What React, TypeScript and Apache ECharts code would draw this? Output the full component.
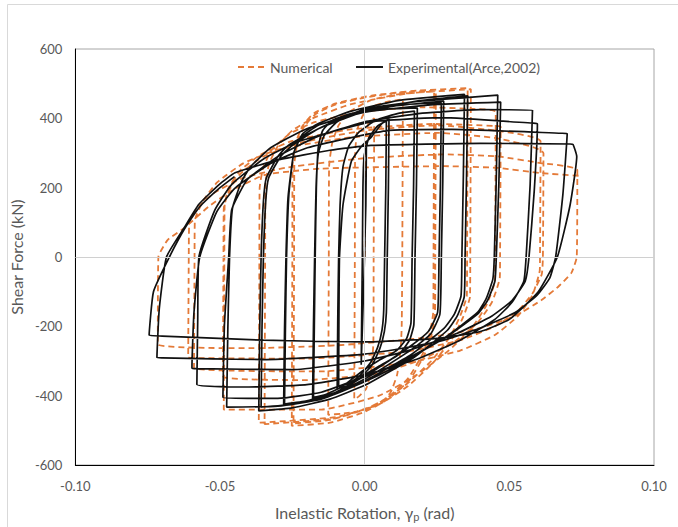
import React, { useEffect, useRef } from "react";
import * as echarts from "echarts";

// ---- Tick labels / axis ranges ----
const xTicks = [-0.1, -0.05, 0, 0.05, 0.1];
const yTicks = [-600, -400, -200, 0, 200, 400, 600];
const legendNames = ["Numerical", "Experimental(Arce,2002)"];

// ---- Experimental (Arce, 2002) hysteresis: [rotation, shear kN] ----
const expElastic = [[0, 0], [0.0003, 150], [0.0006, 328], [0.0004, 150], [-0.0004, -100], [-0.0012, -311]];
const expCycle1 = [[-0.0012, -311], [-0.001, -150], [-0.0008, 0], [-0.0006, 200], [-0.0002, 290], [0.0015, 345], [0.0045, 378], [0.0075, 392],
  [0.0073, 200], [0.0069, 0], [0.0066, -150], [0.006, -210], [0.0045, -260], [0.002, -305], [-0.002, -345], [-0.006, -366], [-0.009, -373]];
const expCycle2 = [[-0.009, -373], [-0.0089, -180], [-0.0087, 0], [-0.0075, 150], [-0.0046, 276], [-0.001, 320], [0.0022, 345], [0.006, 385], [0.0084, 400],
  [0.0082, 200], [0.0078, 0], [0.0075, -160], [0.0068, -215], [0.0052, -265], [0.0025, -312], [-0.002, -352], [-0.006, -372], [-0.0095, -380]];
const expCycle3 = [[-0.0095, -380], [-0.0093, -180], [-0.009, 0], [-0.0085, 150], [-0.0075, 260], [-0.0055, 320], [-0.002, 360], [0.004, 395], [0.012, 415], [0.0172, 421],
  [0.0169, 200], [0.0164, 0], [0.016, -190], [0.0145, -235], [0.011, -270], [0.0046, -300], [-0.001, -330], [-0.008, -375], [-0.014, -398], [-0.0177, -405]];
const expCycle4 = [[-0.0177, -405], [-0.0174, -200], [-0.0171, 0], [-0.0167, 200], [-0.016, 320], [-0.0145, 365], [-0.011, 395], [-0.004, 415], [0.006, 426], [0.0182, 430],
  [0.0179, 210], [0.0174, 0], [0.017, -195], [0.0155, -240], [0.012, -280], [0.006, -310], [0.0, -340], [-0.007, -380], [-0.014, -402], [-0.018, -410]];
const expCycle5 = [[-0.018, -410], [-0.0177, -200], [-0.0173, 0], [-0.0168, 200], [-0.016, 300], [-0.014, 350], [-0.0095, 390], [-0.002, 420], [0.01, 438], [0.0265, 445],
  [0.0262, 220], [0.0257, 0], [0.0252, -160], [0.022, -215], [0.016, -256], [0.0046, -320], [-0.001, -348], [-0.01, -390], [-0.02, -415], [-0.0277, -424]];
const expCycle6 = [[-0.0277, -424], [-0.0274, -210], [-0.027, 0], [-0.0262, 180], [-0.0245, 300], [-0.022, 345], [-0.016, 380], [-0.005, 410], [0.01, 435], [0.0273, 450],
  [0.027, 220], [0.0265, 0], [0.026, -165], [0.0228, -222], [0.017, -262], [0.006, -322], [0.0, -352], [-0.01, -393], [-0.02, -418], [-0.028, -428]];
const expCycle7 = [[-0.028, -428], [-0.0277, -210], [-0.0272, 0], [-0.0265, 170], [-0.0245, 300], [-0.0215, 355], [-0.016, 385], [-0.005, 420], [0.012, 452], [0.0345, 469],
  [0.0341, 230], [0.0336, 0], [0.0333, -112], [0.031, -165], [0.0274, -206], [0.016, -282], [0.006, -330], [-0.001, -362], [-0.012, -400], [-0.025, -425], [-0.0358, -433]];
const expCycle8 = [[-0.0358, -433], [-0.0355, -210], [-0.035, 0], [-0.0342, 160], [-0.0332, 228], [-0.029, 290], [-0.025, 322], [-0.016, 370], [0.0, 420], [0.018, 450], [0.0356, 465],
  [0.0352, 230], [0.0347, 0], [0.0344, -115], [0.032, -170], [0.0285, -212], [0.017, -290], [0.007, -338], [0.0, -370], [-0.012, -410], [-0.025, -435], [-0.0366, -444]];
const expCycle9 = [[-0.0366, -444], [-0.0363, -220], [-0.0358, 0], [-0.035, 160], [-0.034, 228], [-0.03, 290], [-0.0264, 322], [-0.016, 370], [0.0, 427], [0.02, 450], [0.035, 460], [0.046, 467],
  [0.0455, 230], [0.0448, 0], [0.0443, -64], [0.042, -120], [0.039, -160], [0.0274, -234], [0.01, -319], [0.0, -360], [-0.015, -410], [-0.03, -430], [-0.0477, -433]];
const expCycle10 = [[-0.0477, -433], [-0.0473, -210], [-0.0467, 0], [-0.0457, 140], [-0.0427, 215], [-0.0395, 260], [-0.0325, 315], [-0.02, 370], [0.0, 418], [0.025, 440], [0.047, 447],
  [0.0464, 220], [0.0455, 0], [0.045, -70], [0.0425, -125], [0.039, -165], [0.028, -232], [0.012, -305], [0.0, -345], [-0.015, -390], [-0.03, -408], [-0.049, -405]];
const expCycle11 = [[-0.049, -405], [-0.0485, -200], [-0.047, 0], [-0.046, 135], [-0.0423, 200], [-0.04, 228], [-0.03, 290], [-0.017, 345], [0.0, 390], [0.02, 415], [0.04, 425], [0.058, 424],
  [0.0572, 210], [0.0558, 0], [0.055, -70], [0.051, -130], [0.045, -180], [0.033, -240], [0.018, -295], [0.0, -340], [-0.02, -368], [-0.04, -375], [-0.058, -368]];
const expCycle12 = [[-0.058, -368], [-0.0577, -180], [-0.0573, 0], [-0.0518, 135], [-0.046, 209], [-0.0346, 285], [-0.0229, 333], [0.0022, 390], [0.027, 402], [0.058, 386], [0.0597, 384],
  [0.0586, 190], [0.0568, 0], [0.0555, -70], [0.051, -125], [0.044, -170], [0.032, -220], [0.015, -270], [0.0, -300], [-0.025, -325], [-0.058, -322], [-0.0597, -320]];
const expCycle13 = [[-0.0597, -320], [-0.059, -160], [-0.057, 0], [-0.0511, 131], [-0.0448, 199], [-0.0325, 270], [-0.0198, 315], [0.0073, 364], [0.03, 368], [0.068, 357], [0.07, 356],
  [0.0685, 180], [0.066, 0], [0.064, -60], [0.0596, -110], [0.052, -160], [0.04, -205], [0.025, -245], [0.0, -280], [-0.035, -296], [-0.07, -291], [-0.0718, -290]];
const expCycle14 = [[-0.0718, -290], [-0.071, -150], [-0.0685, 0], [-0.0622, 87], [-0.0573, 152], [-0.0503, 209], [-0.0448, 243], [-0.03, 280], [-0.012, 308], [0.0022, 322], [0.04, 328], [0.071, 326], [0.072, 325],
  [0.0733, 290], [0.071, 150], [0.0666, 0], [0.06, -100], [0.05, -180], [0.04, -215], [0.025, -235], [0, -245], [-0.035, -240], [-0.07, -228], [-0.0745, -226]];
const expFinal = [[-0.0745, -226], [-0.073, -100], [-0.0675, 0], [-0.062, 85], [-0.057, 145], [-0.05, 200], [-0.045, 232]];

// ---- Numerical hysteresis ----
const numElastic = [[0, 0], [0.0002, 250], [0.0006, 360], [0.0015, 390], [0.0033, 400]];
const numLoop1 = [[0.0033, 400], [0.0031, 0], [0.003, -250], [0.0022, -330], [0.0005, -380], [-0.002, -402], [-0.0036, -410],
  [-0.0034, 0], [-0.0033, 300], [-0.0025, 370], [-0.0005, 410], [0.003, 435], [0.008, 448], [0.0132, 455]];
const numLoop2 = [[0.0132, 455], [0.013, 0], [0.0128, -200], [0.0124, -270], [0.0112, -340], [0.009, -390], [0.0064, -415], [0.001, -440], [-0.008, -452], [-0.0126, -455],
  [-0.0124, 0], [-0.0123, 260], [-0.0112, 330], [-0.009, 380], [-0.005, 420], [0.002, 452], [0.012, 470], [0.024, 478]];
const numLoop3 = [[0.024, 478], [0.0238, 0], [0.0237, -160], [0.0225, -220], [0.02, -280], [0.015, -350], [0.008, -405], [0.0, -440], [-0.012, -470], [-0.0246, -480],
  [-0.0244, 0], [-0.0243, 270], [-0.0232, 330], [-0.021, 375], [-0.017, 412], [-0.01, 440], [0.0, 460], [0.012, 474], [0.0246, 480]];
const numLoop4 = [[0.0246, 480], [0.0244, 0], [0.0243, -165], [0.0231, -225], [0.0205, -285], [0.0155, -355], [0.008, -410], [0.0, -447], [-0.012, -478], [-0.0252, -487],
  [-0.025, 0], [-0.0249, 270], [-0.0238, 330], [-0.0215, 378], [-0.0175, 415], [-0.01, 443], [0.002, 465], [0.018, 480], [0.0356, 487]];
const numLoop5 = [[0.0356, 487], [0.0354, 0], [0.0353, -112], [0.033, -170], [0.0295, -230], [0.023, -300], [0.014, -370], [0.004, -425], [-0.01, -465], [-0.0346, -482],
  [-0.0344, 0], [-0.0343, 210], [-0.033, 270], [-0.03, 320], [-0.025, 365], [-0.018, 400], [-0.005, 440], [0.015, 472], [0.0367, 484]];
const numLoop6 = [[0.0367, 484], [0.0365, 0], [0.0364, -115], [0.0341, -172], [0.0305, -232], [0.024, -302], [0.015, -372], [0.005, -425], [-0.01, -462], [-0.0366, -478],
  [-0.0364, 0], [-0.0363, 200], [-0.035, 260], [-0.032, 310], [-0.026, 355], [-0.017, 390], [0.0, 420], [0.02, 432], [0.0375, 427], [0.0453, 418]];
const numLoop7 = [[0.0453, 418], [0.0451, 0], [0.045, -70], [0.042, -140], [0.037, -205], [0.029, -270], [0.018, -340], [0.005, -400], [-0.015, -440], [-0.0487, -440],
  [-0.0485, 0], [-0.0484, 150], [-0.047, 200], [-0.043, 250], [-0.036, 295], [-0.025, 335], [-0.005, 368], [0.0236, 384], [0.0453, 378], [0.047, 376]];
const numLoop8 = [[0.047, 376], [0.0468, 0], [0.0467, -60], [0.044, -130], [0.039, -190], [0.031, -245], [0.02, -295], [0.005, -335], [-0.02, -355], [-0.049, -345],
  [-0.0488, 0], [-0.0487, 140], [-0.047, 190], [-0.043, 240], [-0.035, 290], [-0.022, 330], [0.0, 365], [0.025, 380], [0.0477, 362], [0.0608, 333]];
const numLoop9 = [[0.0608, 333], [0.0606, 0], [0.0605, -40], [0.058, -110], [0.053, -170], [0.045, -225], [0.033, -270], [0.015, -305], [-0.015, -330], [-0.059, -320],
  [-0.0588, 0], [-0.0587, 105], [-0.056, 160], [-0.051, 215], [-0.042, 270], [-0.03, 310], [-0.005, 345], [0.025, 358], [0.046, 342], [0.0618, 299]];
const numLoop10 = [[0.0618, 299], [0.0616, 0], [0.0612, -50], [0.058, -105], [0.053, -155], [0.045, -200], [0.033, -240], [0.015, -272], [-0.02, -293], [-0.061, -290],
  [-0.0608, 0], [-0.0606, 100], [-0.058, 140], [-0.052, 185], [-0.042, 228], [-0.027, 258], [0.0, 285], [0.0274, 296], [0.046, 290], [0.0608, 271], [0.0735, 250]];
const numLoop11 = [[0.0735, 250], [0.0733, 0], [0.0715, -45], [0.067, -85], [0.061, -125], [0.052, -170], [0.04, -205], [0.022, -232], [-0.01, -255], [-0.04, -263], [-0.0715, -252],
  [-0.0713, 0], [-0.068, 50], [-0.062, 86], [-0.054, 145], [-0.046, 191], [-0.0345, 237], [-0.015, 255], [0.0274, 262], [0.046, 257], [0.0608, 242], [0.0746, 234]];

const experimental = [expElastic, expCycle1, expCycle2, expCycle3, expCycle4, expCycle5, expCycle6, expCycle7,
  expCycle8, expCycle9, expCycle10, expCycle11, expCycle12, expCycle13, expCycle14, expFinal].flat();
const numerical = [numElastic, numLoop1, numLoop2, numLoop3, numLoop4, numLoop5, numLoop6, numLoop7,
  numLoop8, numLoop9, numLoop10, numLoop11].flat();

const FONT = "Lato, 'Open Sans', sans-serif";
const GREY = "#595959";
const ORANGE = "#E47A38";
const DASH = [6, 4];

export default function App() {
  const ref = useRef<HTMLDivElement>(null);
  useEffect(() => {
    if (!ref.current) return;
    const chart = echarts.init(ref.current, null, { renderer: "svg" });
    chart.setOption({
      animation: false,
      backgroundColor: "#ffffff",
      textStyle: { fontFamily: FONT },
      graphic: [
        { type: "line", shape: { x1: 7.5, y1: 4.5, x2: 7.5, y2: 527 }, style: { stroke: "#d9d9d9", lineWidth: 1 }, silent: true },
        { type: "line", shape: { x1: 7.5, y1: 4.5, x2: 678, y2: 4.5 }, style: { stroke: "#d9d9d9", lineWidth: 1 }, silent: true },
        // legend
        { type: "line", z: 10, shape: { x1: 238, y1: 67, x2: 265, y2: 67 }, style: { stroke: ORANGE, lineWidth: 1.8, lineDash: DASH } },
        { type: "text", z: 10, x: 270, y: 67, style: { text: legendNames[0], fill: GREY, font: `14px ${FONT}`, textVerticalAlign: "middle", verticalAlign: "middle" } },
        { type: "line", z: 10, shape: { x1: 356, y1: 67, x2: 383, y2: 67 }, style: { stroke: "#000", lineWidth: 1.8 } },
        { type: "text", z: 10, x: 388, y: 67, style: { text: legendNames[1], fill: GREY, font: `14px ${FONT}`, textVerticalAlign: "middle", verticalAlign: "middle" } },
      ],
      grid: {
        left: 73, top: 49, right: 24, bottom: 55,
        show: true, borderColor: "#a6a6a6", borderWidth: 1,
      },
      xAxis: {
        type: "value",
        min: xTicks[0], max: xTicks[xTicks.length - 1], interval: 0.05,
        axisLine: { show: true, onZero: false, lineStyle: { color: "#000", width: 1 } },
        axisTick: { show: false },
        splitLine: { show: false },
        axisLabel: { color: GREY, fontSize: 13, margin: 14, fontFamily: FONT, formatter: (v: number) => v.toFixed(2) },
        name: "Inelastic Rotation, γ{sub|p} (rad)",
        nameLocation: "middle",
        nameGap: 37,
        nameTextStyle: {
          color: GREY, fontSize: 16, fontFamily: FONT, lineHeight: 20,
          rich: { sub: { fontSize: 11, color: GREY, fontFamily: FONT, verticalAlign: "bottom", lineHeight: 14, padding: [8, 0, 0, 0] } },
        },
      },
      yAxis: {
        type: "value",
        min: yTicks[0], max: yTicks[yTicks.length - 1], interval: 200,
        axisLine: { show: true, onZero: false, lineStyle: { color: "#000", width: 1 } },
        axisTick: { show: false },
        splitLine: { show: false },
        axisLabel: { color: GREY, fontSize: 13, margin: 13, fontFamily: FONT },
        name: "Shear Force (kN)",
        nameLocation: "middle",
        nameGap: 38,
        nameTextStyle: { color: GREY, fontSize: 16, fontFamily: FONT },
      },
      series: [
        {
          name: "zero",
          type: "line",
          data: [],
          silent: true,
          z: 1,
          markLine: {
            silent: true,
            symbol: "none",
            label: { show: false },
            lineStyle: { color: "#d0d0d0", type: "solid", width: 1 },
            data: [{ xAxis: 0 }, { yAxis: 0 }],
          },
        },
        {
          name: legendNames[0],
          type: "line",
          data: numerical,
          showSymbol: false,
          symbol: "none",
          smooth: 0.15,
          z: 2,
          color: ORANGE,
          lineStyle: { color: ORANGE, width: 1.8, type: DASH },
        },
        {
          name: legendNames[1],
          type: "line",
          data: experimental,
          showSymbol: false,
          symbol: "none",
          smooth: 0.15,
          z: 3,
          color: "#000000",
          lineStyle: { color: "#111111", width: 1.7 },
        },
      ],
    });
    return () => chart.dispose();
  }, []);
  return <div ref={ref} style={{ position: "fixed", left: 0, top: 0, width: 678, height: 527 }} />;
}
